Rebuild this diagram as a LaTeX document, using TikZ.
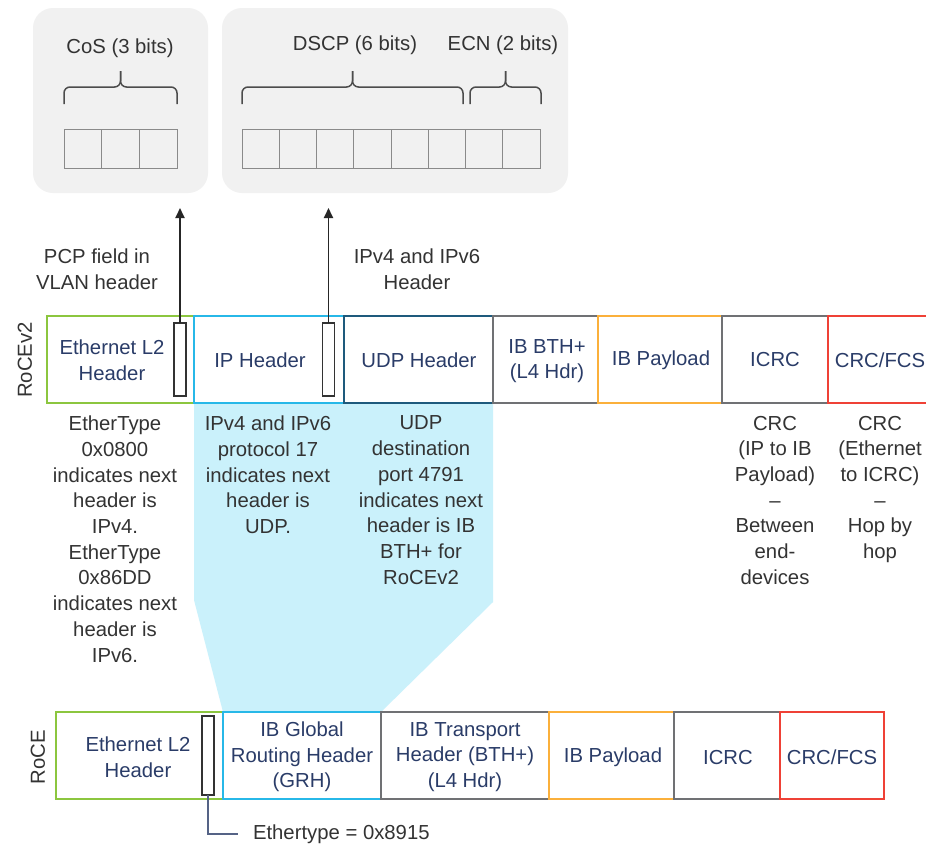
\documentclass[tikz,border=0pt]{standalone}
\usepackage{fontspec}
\setmainfont{Liberation Sans}
\usetikzlibrary{arrows.meta}
\definecolor{cgreen}{HTML}{8CC63F}
\definecolor{ccyan}{HTML}{27B8E8}
\definecolor{cudp}{HTML}{1E5A7C}
\definecolor{cgrey}{HTML}{707174}
\definecolor{corange}{HTML}{FBB03B}
\definecolor{cred}{HTML}{EF4136}
\definecolor{cnavy}{HTML}{2A3C68}
\definecolor{ctext}{HTML}{333333}
\definecolor{cpanel}{HTML}{F1F1F1}
\definecolor{cfillcyan}{HTML}{CAF1FB}
\definecolor{ccell}{HTML}{8A8A8A}
\begin{document}
\begin{tikzpicture}[x=1pt,y=-1pt,
  every node/.style={font=\fontsize{20.3}{25.7}\selectfont, inner sep=0pt, outer sep=0pt},
  field/.style={draw=#1, line width=2pt, fill=white, minimum height=87pt, anchor=north west},
  flabel/.style={text=cnavy, align=center},
  btext/.style={text=ctext, align=center},
  bitmark/.style={draw=black!80, line width=1.5pt, fill=white, minimum width=12pt},
  panel/.style={fill=cpanel, rounded corners=20pt, anchor=north west, minimum height=185pt},
  bitcell/.style={draw=ccell, line width=1pt, minimum height=39pt, anchor=north west},
  bracket/.style={draw=black!70, line width=1.5pt, rounded corners=6pt},
  upline/.style={draw=black!85, line width=1.8pt, -{Triangle[length=10pt,width=9pt]}},
  tagline/.style={draw=cnavy!80, line width=1.5pt}
]
\clip (0,0) rectangle (926,844);
\fill[white] (0,0) rectangle (926,844);

% top panels
\node[panel, minimum width=175pt] (cosbox) at (33,8) {};
\node[panel, minimum width=346pt] (dscpbox) at (222,8) {};
\node[btext] (costxt) at (120,48) {CoS (3 bits)};
\node[btext] (dscptxt) at (355,45) {DSCP (6 bits)};
\node[btext] (ecntxt) at (503,45) {ECN (2 bits)};
\foreach \i in {0,1,2} {\node[bitcell, minimum width=37.67pt] (cos\i) at ({64+37.67*\i},129) {};}
\foreach \i in {0,...,7} {\node[bitcell, minimum width=37.25pt] (ds\i) at ({242+37.25*\i},129) {};}
\draw[bracket] (64,104) -- (64,87) -- (120.5,87) -- (120.5,71);
\draw[bracket] (177,104) -- (177,87) -- (120.5,87) -- (120.5,71);
\draw[bracket] (242,104) -- (242,87) -- (352.5,87) -- (352.5,71);
\draw[bracket] (463,104) -- (463,87) -- (352.5,87) -- (352.5,71);
\draw[bracket] (470,104) -- (470,87) -- (505.5,87) -- (505.5,71);
\draw[bracket] (541,104) -- (541,87) -- (505.5,87) -- (505.5,71);

% cyan funnel
\fill[cfillcyan] (194,403) -- (493,403) -- (493,602) -- (381,712) -- (223,712) -- (194,600) -- cycle;

% labels above RoCEv2
\node[btext] (pcp) at (97,269) {PCP field in\\VLAN header};
\node[btext] (iphdr) at (417,269) {IPv4 and IPv6\\Header};
\node[btext, rotate=90] (v2name) at (25,360) {RoCEv2};

% RoCEv2 row
\node[field=cgreen, minimum width=147pt] (v2eth) at (47,316) {};
\node[field=ccyan, minimum width=150pt] (v2ip) at (194,316) {};
\node[field=cudp, minimum width=149pt] (v2udp) at (344,316) {};
\node[field=cgrey, minimum width=105pt] (v2bth) at (493,316) {};
\node[field=corange, minimum width=124pt] (v2pay) at (598,316) {};
\node[field=cgrey, minimum width=106pt] (v2icrc) at (722,316) {};
\node[field=cred, minimum width=110pt] (v2crc) at (828,316) {};
\node[flabel] (v2ethl) at (112,360) {Ethernet L2\\Header};
\node[flabel] (v2ipl) at (260,360) {IP Header};
\node[flabel] (v2udpl) at (419,360) {UDP Header};
\node[flabel] (v2bthl) at (547,361) {IB BTH+\\(L4 Hdr)};
\node[flabel] (v2payl) at (661,360) {IB Payload};
\node[flabel] (v2icrcl) at (775,360) {ICRC};
\node[flabel] (v2crcl) at (880,360) {CRC/FCS};
\node[bitmark, minimum height=73pt] (v2ebit) at (180,359.5) {};
\node[bitmark, minimum height=73pt] (v2ipbit) at (328.5,359.5) {};
\draw[upline] (v2ebit.north) -- ([yshift=-15pt]v2ebit.north |- cosbox.south);
\draw[upline] (v2ipbit.north) -- ([yshift=-15pt]v2ipbit.north |- dscpbox.south);

% explanations
\node[btext, anchor=north] (ethx) at (115,416) {EtherType\\0x0800\\indicates next\\header is\\IPv4.\\EtherType\\0x86DD\\indicates next\\header is\\IPv6.};
\node[btext, anchor=north] (ipx) at (268,416) {IPv4 and IPv6\\protocol 17\\indicates next\\header is\\UDP.};
\node[btext, anchor=north] (udpx) at (421,416) {UDP\\destination\\port 4791\\indicates next\\header is IB\\BTH+ for\\RoCEv2};
\node[btext, anchor=north] (icrcx) at (775,416) {CRC\\(IP to IB\\Payload)\\–\\Between\\end-\\devices};
\node[btext, anchor=north] (crcx) at (880,416) {CRC\\(Ethernet\\to ICRC)\\–\\Hop by\\hop};

% RoCE row
\node[btext, rotate=90] (v1name) at (38,757) {RoCE};
\node[field=cgreen, minimum width=167pt] (eth) at (56,712) {};
\node[field=ccyan, minimum width=158pt] (grh) at (223,712) {};
\node[field=cgrey, minimum width=168pt] (bth) at (381,712) {};
\node[field=corange, minimum width=125pt] (pay) at (549,712) {};
\node[field=cgrey, minimum width=106pt] (icrc) at (674,712) {};
\node[field=cred, minimum width=104pt] (crc) at (780,712) {};
\node[flabel] (ethl) at (138,757) {Ethernet L2\\Header};
\node[flabel] (grhl) at (302,757) {IB Global\\Routing Header\\(GRH)};
\node[flabel] (bthl) at (465,757) {IB Transport\\Header (BTH+)\\(L4 Hdr)};
\node[flabel] (payl) at (613,757) {IB Payload};
\node[flabel] (icrcl) at (728,757) {ICRC};
\node[flabel] (crcl) at (832,757) {CRC/FCS};
\node[bitmark, minimum height=79pt] (ebit) at (208,755.5) {};
\node[btext, anchor=west] (etlabel) at (253,834) {Ethertype = 0x8915};
\draw[tagline] (ebit.south) |- ([xshift=-15pt]etlabel.west);
\end{tikzpicture}
\end{document}
